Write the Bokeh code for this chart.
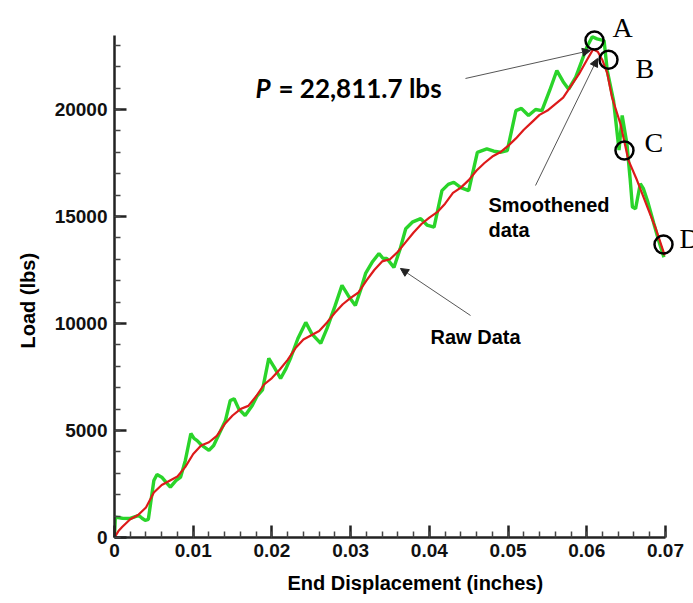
from bokeh.plotting import figure
from bokeh.models import (Range1d, FixedTicker, Label, Arrow, NormalHead, Title)
from bokeh.embed import file_html
from bokeh.resources import INLINE

# ---------------- data ----------------
raw_x = [0, 0.0001, 0.001, 0.002, 0.0031, 0.0035, 0.0039, 0.0043, 0.005, 0.0054,
         0.006, 0.0067, 0.0071, 0.0078, 0.0084, 0.009, 0.0097, 0.0101, 0.0105, 0.0111,
         0.012, 0.0126, 0.0133, 0.0141, 0.0147, 0.0152, 0.0158, 0.0166, 0.0175, 0.0181,
         0.0188, 0.0196, 0.0203, 0.0211, 0.0218, 0.0224, 0.0233, 0.0243, 0.0251, 0.0262,
         0.027, 0.028, 0.0289, 0.0297, 0.0306, 0.0313, 0.0319, 0.0328, 0.0336, 0.0341,
         0.0346, 0.0355, 0.0363, 0.037, 0.0379, 0.0389, 0.0397, 0.0406, 0.0416, 0.0424,
         0.0431, 0.044, 0.045, 0.0461, 0.0473, 0.0482, 0.049, 0.0499, 0.051, 0.0517,
         0.0526, 0.0535, 0.0543, 0.0553, 0.0562, 0.057, 0.0577, 0.0586, 0.0593, 0.06,
         0.0607, 0.0613, 0.0622, 0.0626, 0.0634, 0.0641, 0.0645, 0.0651, 0.0655, 0.0658,
         0.0662, 0.0668, 0.0672, 0.0677, 0.0685, 0.0692, 0.0698]
raw_load = [0, 950, 900, 890, 1030, 900, 800, 850, 2660, 2940,
            2820, 2520, 2350, 2660, 2820, 3600, 4860, 4630, 4530, 4300,
            4070, 4300, 4850, 5470, 6400, 6480, 6000, 5700, 6170, 6600,
            6900, 8370, 7950, 7430, 7900, 8410, 9300, 10050, 9500, 9070,
            9770, 10800, 11780, 11300, 10840, 11600, 12340, 12900, 13270, 13050,
            13040, 12620, 13500, 14430, 14750, 14900, 14600, 14500, 16210, 16500,
            16600, 16350, 16210, 18000, 18160, 18050, 18000, 18080, 19950, 20050,
            19720, 20000, 19950, 20900, 21820, 21300, 20950, 21510, 22200, 22910,
            23400, 23300, 23220, 21820, 20420, 18100, 19720, 18400, 16800, 15440,
            15360, 16530, 16300, 15750, 14700, 13800, 13100]

smooth_x = [0, 0.0005, 0.001, 0.002, 0.003, 0.004, 0.005, 0.006, 0.007, 0.008, 0.009,
            0.010, 0.011, 0.012, 0.013, 0.014, 0.015, 0.016, 0.017, 0.018, 0.019,
            0.020, 0.021, 0.022, 0.023, 0.024, 0.025, 0.026, 0.027, 0.028, 0.029,
            0.030, 0.031, 0.032, 0.033, 0.034, 0.035, 0.036, 0.037, 0.038, 0.039,
            0.040, 0.041, 0.042, 0.043, 0.044, 0.045, 0.046, 0.047, 0.048, 0.049,
            0.050, 0.051, 0.052, 0.053, 0.054, 0.055, 0.056, 0.057, 0.058, 0.059,
            0.060, 0.0608, 0.0614, 0.062, 0.0626, 0.0632, 0.0643, 0.0653, 0.0664,
            0.0677, 0.0687, 0.0699]
smooth_load = [0, 300, 500, 850, 1050, 1400, 2100, 2450, 2650, 2850, 3300,
               3900, 4300, 4450, 4750, 5300, 5700, 6000, 6150, 6600, 7150,
               7450, 7850, 8300, 8850, 9250, 9450, 9650, 10050, 10500, 10900,
               11200, 11450, 12000, 12500, 12900, 13000, 13350, 13800, 14250, 14650,
               14950, 15200, 15600, 16100, 16350, 16700, 17150, 17500, 17800, 18000,
               18300, 18650, 19050, 19400, 19750, 19950, 20250, 20550, 21100, 21650,
               22300, 22810, 22700, 22300, 21700, 20580, 19300, 17620, 16680,
               15440, 14500, 13180]

# marked points A-D
point_names = ["A", "B", "C", "D"]
point_x = [0.06098, 0.06276, 0.06479, 0.06975]
point_load = [23225, 22325, 18084, 13690]

x_ticks = [0, 0.01, 0.02, 0.03, 0.04, 0.05, 0.06, 0.07]
x_tick_labels = ["0", "0.01", "0.02", "0.03", "0.04", "0.05", "0.06", "0.07"]
y_ticks = [0, 5000, 10000, 15000, 20000]
y_tick_labels = ["0", "5000", "10000", "15000", "20000"]
x_minor = [i * 0.002 for i in range(36)]
y_minor = [i * 1000 for i in range(24)]

peak_text = "= 22,811.7 lbs"
x_title = "End Displacement (inches)"
y_title = "Load (lbs)"

# ---------------- figure ----------------
W, H = 693, 603
p = figure(width=W, height=H, output_backend="svg", toolbar_location=None,
           x_range=Range1d(0, 0.07356), y_range=Range1d(0, 25093),
           min_border_left=114, min_border_right=0, min_border_top=0,
           min_border_bottom=66)
p.outline_line_color = None
p.grid.visible = False
p.background_fill_color = "white"
p.border_fill_color = "white"

for ax in (p.xaxis[0], p.yaxis[0]):
    ax.axis_line_width = 2.5
    ax.axis_line_color = "#222222"
    ax.major_tick_in = 12
    ax.major_tick_out = 0
    ax.minor_tick_in = 6
    ax.minor_tick_out = 0
    ax.major_tick_line_width = 2.5
    ax.major_tick_line_color = "#222222"
    ax.minor_tick_line_width = 1.5
    ax.minor_tick_line_color = "#444444"
    ax.major_label_text_font = "Liberation Sans"
    ax.major_label_text_font_style = "bold"
    ax.major_label_text_font_size = "19px"
    ax.major_label_text_color = "#111111"

p.xaxis[0].ticker = FixedTicker(ticks=x_ticks, minor_ticks=x_minor)
p.xaxis[0].major_label_overrides = {t: s for t, s in zip(x_ticks, x_tick_labels)}
p.xaxis[0].bounds = (0, 0.07)
p.xaxis[0].major_label_standoff = 6

p.yaxis[0].ticker = FixedTicker(ticks=y_ticks, minor_ticks=y_minor)
p.yaxis[0].major_label_overrides = {t: s for t, s in zip(y_ticks, y_tick_labels)}
p.yaxis[0].bounds = (0, 23460)
p.yaxis[0].major_label_standoff = 7

# axis titles as side titles (not clipped by the frame)
p.add_layout(Title(text=x_title, align="left", offset=173, standoff=20,
                   text_font="Liberation Sans", text_font_style="bold",
                   text_font_size="20px", text_color="black"), "below")
p.add_layout(Title(text=y_title, align="left", offset=189, standoff=25,
                   text_font="Liberation Sans", text_font_style="bold",
                   text_font_size="20px", text_color="black"), "left")

# curves
p.line(raw_x, raw_load, line_color="#2ad42a", line_width=3.4)
p.line(smooth_x, smooth_load, line_color="#dd1a1a", line_width=2.2)

# circles
p.scatter(point_x, point_load, marker="circle", size=18, fill_color=None,
          line_color="black", line_width=2.5)

# letters
letter_pos = [(0.06327, 23832), (0.06619, 21916), (0.06733, 18458), (0.07178, 13972)]
for name, (lx, ly) in zip(point_names, letter_pos):
    p.add_layout(Label(x=lx, y=ly, text=name, text_font="Liberation Serif",
                       text_font_size="28px", text_color="black",
                       text_baseline="alphabetic", text_align="left"))

# arrows
arrow_style = dict(line_color="#555555", line_width=1)
p.add_layout(Arrow(end=NormalHead(size=8, fill_color="#222222", line_color="#222222"),
                   x_start=0.04459, y_start=21449, x_end=0.06047, y_end=22757, **arrow_style))
p.add_layout(Arrow(end=NormalHead(size=8, fill_color="#222222", line_color="#222222"),
                   x_start=0.05349, y_start=16449, x_end=0.06136, y_end=22384, **arrow_style))
p.add_layout(Arrow(end=NormalHead(size=8, fill_color="#222222", line_color="#222222"),
                   x_start=0.04523, y_start=10374, x_end=0.03633, y_end=12570, **arrow_style))

# annotation texts
p.add_layout(Label(x=0.01791, y=20981, text="P", text_font="Lato",
                   text_font_style="bold italic", text_font_size="26px",
                   text_color="black", text_baseline="alphabetic"))
p.add_layout(Label(x=0.02083, y=20981, text=peak_text, text_font="Lato",
                   text_font_style="bold", text_font_size="26px",
                   text_color="black", text_baseline="alphabetic"))
for txt, ly in (("Smoothened", 15514), ("data", 14346)):
    p.add_layout(Label(x=0.04751, y=ly, text=txt, text_font="Liberation Sans",
                       text_font_style="bold", text_font_size="20px",
                       text_color="black", text_baseline="alphabetic"))
p.add_layout(Label(x=0.04015, y=9346, text="Raw Data", text_font="Liberation Sans",
                   text_font_style="bold", text_font_size="20px",
                   text_color="black", text_baseline="alphabetic"))

open("out.html", "w").write(file_html(p, INLINE))
